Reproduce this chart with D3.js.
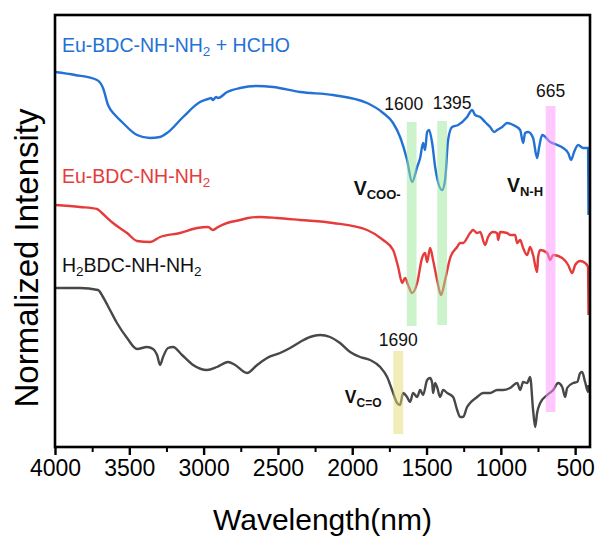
<!DOCTYPE html>
<html>
<head>
<meta charset="utf-8">
<script src="https://cdn.jsdelivr.net/npm/d3@7"></script>
<style>
  html, body { margin: 0; padding: 0; background: #fff; }
  svg { display: block; font-family: "Liberation Sans", Arial, sans-serif; }
</style>
</head>
<body>
<svg id="chart" width="601" height="538"></svg>
<script>
// FTIR spectra, wavenumber (cm-1) vs. stacked intensity (a.u.)
const hchoSpectrum = [
  [4000,375],[3865,372],[3717,367],[3677,359],[3643,342],[3596,332],[3549,325],[3448,312],
  [3361,309],[3293,310],[3246,314],[3138,330],[3024,345],[2970,348],[2950,349],[2937,347],
  [2916,350],[2903,349],[2842,355],[2755,359],[2640,361],[2533,360],[2351,355],[2129,352],
  [1900,344],[1792,334],[1725,324],[1678,310],[1631,287],[1597,265],[1563,280],[1543,289],
  [1523,304],[1510,297],[1496,315],[1483,317],[1462,304],[1442,280],[1395,257],[1375,267],
  [1355,307],[1328,320],[1287,322],[1227,330],[1193,337],[1173,332],[1139,330],[1106,325],
  [1072,320],[1045,315],[1025,317],[991,320],[958,324],[917,322],[870,317],[850,304],
  [837,314],[816,315],[783,309],[756,289],[742,300],[722,312],[668,305],[621,302],
  [581,299],[547,294],[527,287],[507,295],[480,302],[446,299],[413,299],[410,232]
];
const ligandMofSpectrum = [
  [4000,242],[3832,240],[3717,238],[3684,234],[3610,224],[3515,214],[3448,206],[3361,205],
  [3293,210],[3159,214],[3044,219],[2970,220],[2937,217],[2903,220],[2842,224],[2755,227],
  [2701,229],[2620,230],[2506,229],[2351,227],[2129,224],[1900,217],[1792,207],[1725,197],
  [1691,180],[1664,164],[1644,169],[1624,162],[1597,154],[1563,164],[1530,189],[1510,194],
  [1496,185],[1476,199],[1456,187],[1429,167],[1402,152],[1375,167],[1341,189],[1294,200],
  [1274,204],[1254,204],[1207,214],[1187,217],[1160,214],[1139,215],[1106,202],[1086,210],
  [1052,215],[1025,214],[1018,207],[1005,215],[958,214],[938,212],[904,212],[890,204],
  [870,207],[850,199],[823,192],[803,200],[783,192],[756,175],[749,190],[735,197],
  [688,194],[668,187],[648,192],[587,189],[547,182],[520,174],[500,182],[466,186],
  [433,184],[413,180],[410,132]
];
const ligandSpectrum = [
  [4000,159],[3832,159],[3711,157],[3677,150],[3630,137],[3583,124],[3515,109],[3448,98],
  [3381,100],[3340,98],[3313,92],[3293,82],[3273,90],[3239,99],[3206,100],[3145,92],
  [3071,82],[2977,77],[2910,80],[2836,85],[2788,82],[2708,74],[2640,82],[2573,89],
  [2486,94],[2418,99],[2351,105],[2284,110],[2216,112],[2149,110],[2082,104],[2014,95],
  [1947,90],[1880,87],[1812,80],[1765,70],[1732,57],[1698,44],[1678,42],[1658,54],
  [1631,50],[1611,45],[1590,54],[1563,50],[1543,57],[1523,52],[1496,67],[1476,69],
  [1462,64],[1456,54],[1442,64],[1429,60],[1409,50],[1388,57],[1361,54],[1321,50],
  [1294,37],[1274,30],[1254,30],[1227,40],[1207,44],[1160,50],[1119,54],[1072,54],
  [1025,57],[985,57],[938,59],[890,64],[870,57],[850,65],[823,64],[803,70],
  [783,37],[769,20],[756,34],[735,44],[688,52],[648,57],[614,64],[587,60],
  [567,50],[554,59],[513,64],[486,65],[466,74],[453,75],[433,65],[413,55],[410,62]
];

const seriesColors = ["#2471d6", "#e63b3b", "#484848"];

// highlighted vibration bands: centre wavenumber, intensity span, colour
const bandCenters = [1600, 1395, 665, 1690];
const bandSpans = [[121, 325], [122, 326], [35, 341], [13, 96]];
const bandColors = ["#9be89b", "#9be89b", "#ff94ff", "#e6dc6e"];
const bandLabels = ["1600", "1395", "665", "1690"];

const xTicks = [4000, 3500, 3000, 2500, 2000, 1500, 1000, 500];
const xMinorTicks = [3750, 3250, 2750, 2250, 1750, 1250, 750];

const svg = d3.select("#chart");
const frame = { left: 55, right: 590, top: 15, bottom: 447 };

const x = d3.scaleLinear().domain([4000, 400]).range([frame.left, frame.right]);
const y = d3.scaleLinear().domain([0, 432]).range([frame.bottom, frame.top]);

svg.append("defs").append("clipPath").attr("id", "plot-clip")
  .append("rect")
  .attr("x", frame.left).attr("y", frame.top)
  .attr("width", frame.right - frame.left).attr("height", frame.bottom - frame.top);

const line = d3.line().x(d => x(d[0])).y(d => y(d[1])).curve(d3.curveMonotoneX);

const plot = svg.append("g").attr("clip-path", "url(#plot-clip)");
[hchoSpectrum, ligandMofSpectrum, ligandSpectrum].forEach((data, i) => {
  plot.append("path")
    .datum(data)
    .attr("fill", "none")
    .attr("stroke", seriesColors[i])
    .attr("stroke-width", 2.4)
    .attr("stroke-linejoin", "round")
    .attr("d", line);
});

// translucent bands over the spectra
const bandHalfWidth = 33;
bandCenters.forEach((c, i) => {
  plot.append("rect")
    .attr("x", x(c + bandHalfWidth))
    .attr("width", x(c - bandHalfWidth) - x(c + bandHalfWidth))
    .attr("y", y(bandSpans[i][1]))
    .attr("height", y(bandSpans[i][0]) - y(bandSpans[i][1]))
    .attr("fill", bandColors[i])
    .attr("fill-opacity", 0.5);
});

// band wavenumber labels
const labelOffsets = [[-8, -12], [10, -12], [0, -9], [0, -5]];
bandCenters.forEach((c, i) => {
  svg.append("text")
    .attr("x", x(c) + labelOffsets[i][0])
    .attr("y", y(bandSpans[i][1]) + labelOffsets[i][1])
    .attr("text-anchor", "middle")
    .attr("font-size", 17.5)
    .attr("fill", "#111")
    .text(bandLabels[i]);
});

// vibration mode labels (bold V with subscript)
function modeLabel(xPos, yPos, size, subSize, sub) {
  const t = svg.append("text")
    .attr("x", xPos).attr("y", yPos)
    .attr("font-weight", "bold")
    .attr("font-size", size)
    .attr("fill", "#111");
  t.append("tspan").text("V");
  t.append("tspan").attr("font-size", subSize).attr("dy", 4).text(sub);
}
modeLabel(x(1990), y(252), 19.5, 13, "COO-");
modeLabel(x(959), y(255), 19.5, 13, "N-H");
modeLabel(x(2050), y(44), 17.5, 12, "C=O");

// series labels with subscript 2
function seriesLabel(xPos, yPos, parts, color) {
  const t = svg.append("text")
    .attr("x", xPos).attr("y", yPos)
    .attr("font-size", 19.5)
    .attr("fill", color);
  parts.forEach(p => {
    if (p.sub) {
      t.append("tspan").attr("font-size", 13.5).attr("dy", 4).text(p.text);
    } else {
      t.append("tspan").attr("dy", p.after ? -4 : 0).text(p.text);
    }
  });
}
seriesLabel(62, 52, [{text: "Eu-BDC-NH-NH"}, {text: "2", sub: true}, {text: " + HCHO", after: true}], seriesColors[0]);
seriesLabel(62, 183, [{text: "Eu-BDC-NH-NH"}, {text: "2", sub: true}], seriesColors[1]);
seriesLabel(62, 272, [{text: "H"}, {text: "2", sub: true}, {text: "BDC-NH-NH", after: true}, {text: "2", sub: true}], "#111");

// frame
svg.append("rect")
  .attr("x", frame.left).attr("y", frame.top)
  .attr("width", frame.right - frame.left).attr("height", frame.bottom - frame.top)
  .attr("fill", "none").attr("stroke", "#000").attr("stroke-width", 2.6);

// bottom axis
const axis = d3.axisBottom(x).tickValues(xTicks).tickSize(8).tickPadding(5).tickFormat(d3.format("d"));
const gx = svg.append("g").attr("transform", `translate(0,${frame.bottom})`).call(axis);
gx.select(".domain").remove();
gx.selectAll(".tick line").attr("stroke", "#000").attr("stroke-width", 2.4);
gx.selectAll(".tick text").attr("font-size", 23).attr("font-family", "Liberation Sans, Arial, sans-serif").attr("fill", "#000");

const minor = d3.axisBottom(x).tickValues(xMinorTicks).tickSize(5).tickFormat("");
const gm = svg.append("g").attr("transform", `translate(0,${frame.bottom})`).call(minor);
gm.select(".domain").remove();
gm.selectAll(".tick line").attr("stroke", "#000").attr("stroke-width", 2);

// axis titles
svg.append("text")
  .attr("x", (frame.left + frame.right) / 2).attr("y", 530)
  .attr("text-anchor", "middle").attr("font-size", 30).attr("fill", "#000")
  .text("Wavelength(nm)");
svg.append("text")
  .attr("transform", "translate(38,258) rotate(-90)")
  .attr("text-anchor", "middle").attr("font-size", 33).attr("fill", "#000")
  .text("Normalized Intensity");
</script>
</body>
</html>
